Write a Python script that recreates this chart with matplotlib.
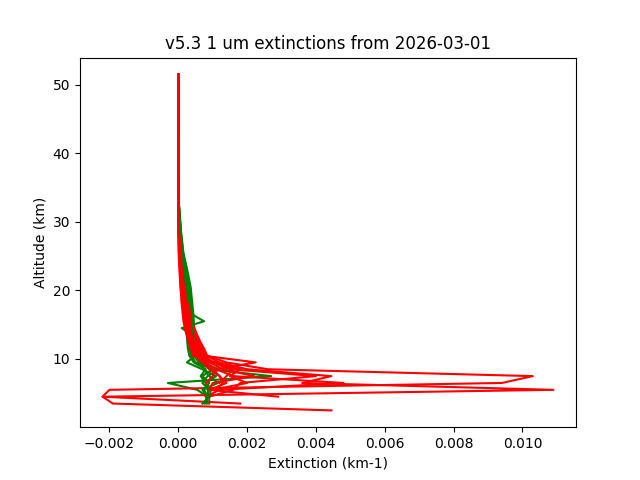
import numpy as np
import matplotlib
matplotlib.use("Agg")
import matplotlib.pyplot as plt

nan = np.nan
title = "v5.3 1 um extinctions from 2026-03-01"
xlabel = "Extinction (km-1)"
ylabel = "Altitude (km)"

# Altitude grid (km)
altitude = [2.5, 3.5, 4.5, 5.5, 6.5, 7.5, 8.5, 9.5, 10.5, 11.5, 12.5, 13.5, 14.5,
            15.5, 16.5, 17.5, 18.5, 19.5, 20.5, 22.5, 25.5, 28.5, 32.5, 38.5, 45.5, 51.5]

# Extinction values in units of 1e-3 km-1
scale = 1e-3

green_1 = [nan, 0.75, 0.85, 0.55, -0.3, 2.7, 0.9, 0.75, 0.6, 0.52, 0.48, 0.46, 0.45,
           0.45, 0.44, 0.42, 0.40, 0.38, 0.36, 0.28, 0.15, 0.08, 0.02, 0.005, 0.001, 0.0]
green_2 = [nan, 0.9, 0.9, 0.85, 0.8, 1.1, 0.7, 0.25, 0.5, 0.45, 0.42, 0.40, 0.1,
           0.75, 0.40, 0.38, 0.36, 0.34, 0.32, 0.25, 0.13, 0.07, 0.02, 0.004, 0.0, 0.0]
green_3 = [nan, 0.85, 0.8, 0.9, 0.7, 0.85, 1.2, 0.6, 0.45, 0.4, 0.36, 0.34, 0.33,
           0.33, 0.32, 0.31, 0.30, 0.29, 0.27, 0.2, 0.11, 0.06, 0.015, 0.003, 0.0, 0.0]
green_4 = [nan, nan, 0.85, 0.75, 0.9, 0.7, 1.0, 0.5, 0.38, 0.33, 0.3, 0.28, 0.27,
           0.27, 0.26, 0.25, 0.24, 0.23, 0.22, 0.17, 0.09, 0.05, 0.012, 0.003, 0.0, 0.0]
green_5 = [nan, 0.7, 0.9, 0.95, 0.8, 0.65, 0.8, 0.45, 0.32, 0.28, 0.26, 0.25, 0.24,
           0.23, 0.23, 0.22, 0.21, 0.2, 0.19, 0.14, 0.07, 0.04, 0.01, 0.002, 0.0, 0.0]
green_6 = [nan, 0.8, 0.85, 0.7, 1.15, 0.9, 0.75, 0.65, 0.55, 0.48, 0.45, 0.43, 0.42,
           0.41, 0.40, 0.38, 0.37, 0.35, 0.33, 0.26, 0.14, 0.08, 0.02, 0.004, 0.0, 0.0]

red_1 = [4.45, -1.9, -2.2, -2.0, 9.4, 10.3, 2.6, 1.4, 0.84, 0.75, 0.64, 0.55, 0.47,
         0.43, 0.39, 0.35, 0.31, 0.28, 0.26, 0.19, 0.12, 0.05, 0.015, 0.004, 0.001, 0.0]
red_2 = [nan, 1.8, -2.2, 10.9, 3.6, 4.45, 2.0, 1.2, 0.8, 0.7, 0.6, 0.51, 0.44,
         0.40, 0.36, 0.32, 0.29, 0.26, 0.23, 0.17, 0.10, 0.04, 0.012, 0.003, 0.0, 0.0]
red_3 = [nan, nan, 0.9, 1.6, 1.8, 4.0, 1.5, 1.0, 0.75, 0.66, 0.56, 0.48, 0.41,
         0.37, 0.33, 0.29, 0.26, 0.23, 0.21, 0.15, 0.08, 0.035, 0.01, 0.002, 0.0, 0.0]
red_4 = [nan, nan, 0.8, 1.2, 4.8, 1.6, 1.1, 2.25, 0.7, 0.62, 0.52, 0.44, 0.38,
         0.34, 0.30, 0.27, 0.24, 0.21, 0.19, 0.13, 0.07, 0.03, 0.008, 0.002, 0.0, 0.0]
red_5 = [nan, nan, 2.9, 0.9, 1.4, 1.2, 1.0, 0.8, 0.66, 0.58, 0.49, 0.41, 0.35,
         0.31, 0.27, 0.24, 0.21, 0.19, 0.17, 0.11, 0.06, 0.025, 0.006, 0.001, 0.0, 0.0]
red_6 = [nan, nan, nan, 1.0, 2.0, 1.5, 1.8, 1.0, 0.62, 0.54, 0.45, 0.38, 0.32,
         0.28, 0.25, 0.22, 0.19, 0.17, 0.15, 0.10, 0.05, 0.02, 0.005, 0.001, 0.0, 0.0]
red_7 = [nan, nan, nan, 0.9, 1.0, 2.2, 1.3, 0.9, 0.57, 0.49, 0.41, 0.34, 0.29,
         0.25, 0.22, 0.19, 0.16, 0.14, 0.12, 0.08, 0.04, 0.015, 0.004, 0.0, 0.0, 0.0]
red_8 = [nan, nan, nan, nan, 0.8, 1.0, 1.1, 0.8, 0.52, 0.45, 0.37, 0.31, 0.26,
         0.22, 0.19, 0.16, 0.14, 0.12, 0.10, 0.07, 0.03, 0.01, 0.003, 0.0, 0.0, 0.0]
red_9 = [nan, nan, nan, 1.1, 1.3, 1.2, 0.9, 0.7, 0.47, 0.40, 0.33, 0.27, 0.22,
         0.18, 0.16, 0.13, 0.11, 0.10, 0.08, 0.05, 0.02, 0.005, 0.0, 0.0, 0.0, 0.0]
red_10 = [nan, nan, nan, nan, 1.2, 1.4, 1.6, 1.1, 0.43, 0.36, 0.30, 0.24, 0.19,
          0.15, 0.13, 0.11, 0.09, 0.08, 0.06, 0.04, 0.01, 0.0, 0.0, 0.0, 0.0, 0.0]

greens = [green_1, green_2, green_3, green_4, green_5, green_6]
reds = [red_1, red_2, red_3, red_4, red_5, red_6, red_7, red_8, red_9, red_10]

fig, ax = plt.subplots(figsize=(6.4, 4.8), dpi=100)
alt = np.array(altitude)
for i in range(max(len(greens), len(reds))):
    if i < len(greens):
        ax.plot(np.array(greens[i]) * scale, alt, color="g")
    if i < len(reds):
        ax.plot(np.array(reds[i]) * scale, alt, color="r")

ax.set_title(title)
ax.set_xlabel(xlabel)
ax.set_ylabel(ylabel)
fig.savefig("out.png")
